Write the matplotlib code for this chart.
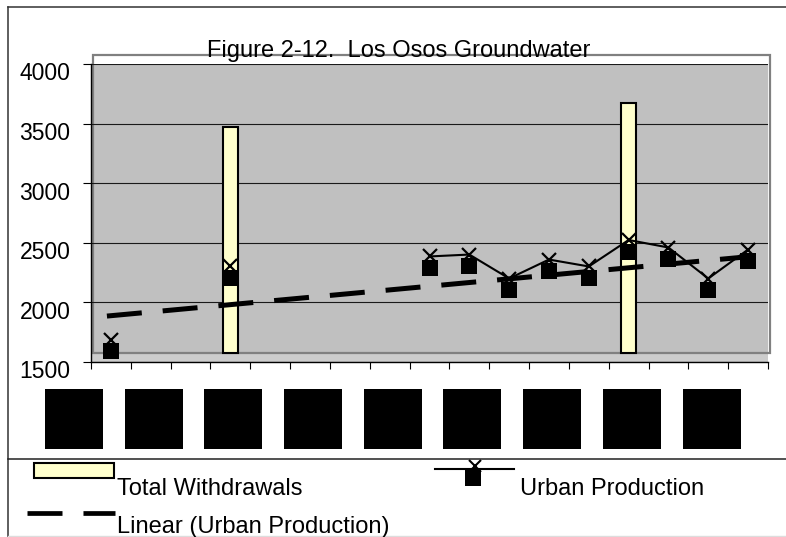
import matplotlib
matplotlib.use("Agg")
import matplotlib.pyplot as plt
import numpy as np
from matplotlib.transforms import ScaledTranslation
from matplotlib.patches import Rectangle
from matplotlib.lines import Line2D

plt.rcParams['font.family'] = ['Liberation Sans', 'DejaVu Sans']
plt.rcParams['lines.scale_dashes'] = False

nan = np.nan
# ---- data ----
categories = list(range(17))          # unlabeled periods along the x axis
total_withdrawals = [nan, nan, nan, 3400, nan, nan, nan, nan, nan, nan,
                     nan, nan, nan, 3600, nan, nan, nan]
urban_production = [1592, nan, nan, 2205, nan, nan, nan, nan, 2289, 2305,
                    2104, 2263, 2205, 2427, 2364, 2104, 2347]
y_ticks = [1500, 2000, 2500, 3000, 3500, 4000]
title = "Figure 2-12.  Los Osos Groundwater"
legend_labels = ["Total Withdrawals", "Urban Production", "Linear (Urban Production)"]
n_label_boxes = 9

DPI = 100
W, H = 786, 537
fig = plt.figure(figsize=(W / DPI, H / DPI), dpi=DPI)


def fx(x):
    return x / W


def fy(y):
    return 1 - y / H


def shift(dx, dy):
    return ScaledTranslation(dx / DPI, dy / DPI, fig.dpi_scale_trans)


ax = fig.add_axes([fx(91), fy(362), 677 / W, 298 / H])
ax.set_xlim(-0.5, 16.5)
ax.set_ylim(1500, 4000)
ax.set_facecolor('#C0C0C0')

# lighter floor strip and offset plot frame
ax.add_patch(Rectangle((0, 0), 1, 9 / 298, transform=ax.transAxes,
                       facecolor='#CCCCCC', edgecolor='none', zorder=0.4))
ax.add_patch(Rectangle((0, 0), 1, 1, transform=ax.transAxes + shift(2, 9),
                       fill=False, edgecolor='#808080', lw=1.6, clip_on=False,
                       zorder=0.45))

ax.set_yticks(y_ticks)
ax.yaxis.grid(True, color='#1a1a1a', lw=0.8)
ax.set_axisbelow(True)

x = np.array(categories, dtype=float)
tw = np.array(total_withdrawals, dtype=float)
up = np.array(urban_production, dtype=float)

# bars
bm = ~np.isnan(tw)
bars = ax.bar(x[bm], tw[bm] - 1500, bottom=1500, width=0.37,
              color='#FFFFCC', edgecolor='black', linewidth=1.5, zorder=2)
for r in bars:
    r.set_transform(ax.transData + shift(0, 9))

# urban production: line with x markers, squares
ax.plot(x, up, color='black', lw=1.5, marker='x', ms=10.5, mew=1.6,
        transform=ax.transData + shift(0, 11.5), zorder=3, clip_on=False)
ax.plot(x, up, ls='none', marker='s', ms=12, mew=0, color='black', zorder=4)

# linear trend
um = ~np.isnan(up)
coef = np.polyfit(x[um], up[um], 1)
tx = np.array([-0.1, 16.22])
ax.plot(tx, np.polyval(coef, tx), color='black', lw=3.6, dashes=(25.2, 15.1),
        dash_capstyle='butt', zorder=3.5)

# axes styling
for s in ['top', 'right']:
    ax.spines[s].set_visible(False)
for s in ['left', 'bottom']:
    ax.spines[s].set_color('black')
    ax.spines[s].set_linewidth(1.0)
    ax.spines[s].set_zorder(5)
ax.set_xticks(np.arange(-0.5, 17, 1))
ax.tick_params(axis='x', direction='out', length=5, width=0.8, labelbottom=False)
ax.tick_params(axis='y', direction='out', length=5.8, width=0.8, pad=8.9,
               labelsize=16.5, colors='black')
for t in ax.yaxis.get_major_ticks():
    t.label1.set_transform(t.label1.get_transform() + shift(0, -7.5))

# title
fig.text(fx(398.5), fy(56.7), title, ha='center', va='baseline', fontsize=17)

# chart border lines
fig.add_artist(Line2D([fx(7.5), fx(7.5)], [fy(7), fy(537)], color='#333333', lw=1.1))
fig.add_artist(Line2D([fx(7.5), fx(786)], [fy(7), fy(7)], color='#333333', lw=1.1))
fig.add_artist(Line2D([fx(7.5), fx(786)], [fy(536), fy(536)], color='#DDDDDD', lw=1.0))
fig.add_artist(Line2D([fx(7.5), fx(786)], [fy(458.5), fy(458.5)], color='#222222', lw=1.1))

# black boxes standing in for unreadable category labels
for k in range(n_label_boxes):
    fig.add_artist(Rectangle((fx(45 + 79.7 * k), fy(449)), 58 / W, 60 / H,
                             transform=fig.transFigure, facecolor='black',
                             edgecolor='none'))

# legend
fig.add_artist(Rectangle((fx(34), fy(478)), 80 / W, 15 / H, transform=fig.transFigure,
                         facecolor='#FFFFCC', edgecolor='black', lw=1.5))
fig.text(fx(117), fy(495), legend_labels[0], va='baseline', fontsize=17)

fig.add_artist(Line2D([fx(435), fx(513.5)], [fy(469), fy(469)], color='black', lw=1.5))
fig.add_artist(Line2D([fx(475)], [fy(466)], ls='none', marker='x', ms=8, mew=1.5,
                      color='black'))
fig.add_artist(Line2D([fx(472.75)], [fy(478.3)], ls='none', marker='s', ms=12, mew=0,
                      color='black'))
fig.text(fx(520), fy(495), legend_labels[1], va='baseline', fontsize=17)

fig.add_artist(Line2D([fx(27), fx(115)], [fy(513), fy(513)], color='black', lw=3.4,
                      dashes=(25.2, 15.1), dash_capstyle='butt'))
fig.text(fx(117), fy(533.3), legend_labels[2], va='baseline', fontsize=17)

fig.savefig('out.png', dpi=DPI)
